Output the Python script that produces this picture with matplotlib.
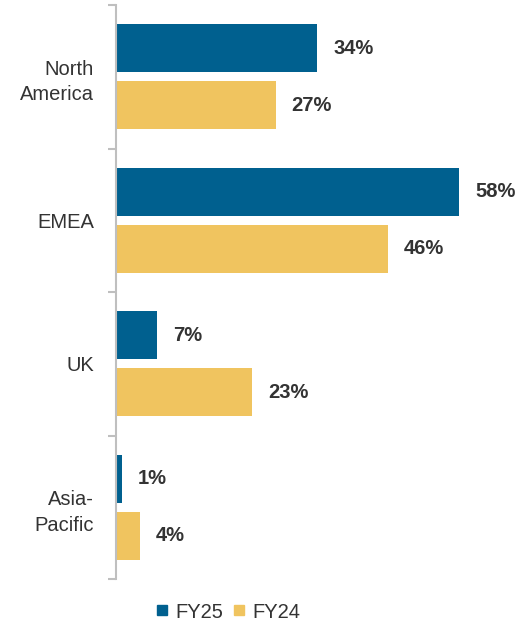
import matplotlib
matplotlib.use("Agg")
import matplotlib.pyplot as plt
import numpy as np
from matplotlib.lines import Line2D

categories = ["North\nAmerica", "EMEA", "UK", "Asia-\nPacific"]
fy25 = [34, 58, 7, 1]
fy24 = [27, 46, 23, 4]
series_names = ["FY25", "FY24"]
colors = ["#00608F", "#F0C45F"]

plt.rcParams['font.family'] = ['Liberation Sans', 'DejaVu Sans']

fig = plt.figure(figsize=(5.17, 6.24), dpi=100)
ax = fig.add_axes([116/517, 45/624, 1 - 116/517, 574/624])

y = np.arange(len(categories))
off = 0.2
h = 0.335
ax.barh(y - off, fy25, height=h, color=colors[0])
ax.barh(y + off, fy24, height=h, color=colors[1])

for yi, v in zip(y - off, fy25):
    ax.text(v + 2.7, yi, f"{v}%", va="center", ha="left", fontsize=14.5,
            fontweight="bold", color="#333333")
for yi, v in zip(y + off, fy24):
    ax.text(v + 2.7, yi, f"{v}%", va="center", ha="left", fontsize=14.5,
            fontweight="bold", color="#333333")

ax.set_ylim(len(categories) - 0.5, -0.5)
ax.set_xlim(0, 67.8)
ax.set_yticks(y)
ax.set_yticklabels(categories, fontsize=14.5, color="#333333", ha="right",
                   linespacing=1.45)
ax.tick_params(axis="y", which="major", length=0, pad=16)
ax.set_yticks(np.arange(-0.5, len(categories), 1), minor=True)
ax.tick_params(axis="y", which="minor", length=6, width=1.5, color="#BFBFBF")
ax.set_xticks([])
for s in ["top", "right", "bottom"]:
    ax.spines[s].set_visible(False)
ax.spines["left"].set_color("#BFBFBF")
ax.spines["left"].set_linewidth(1.5)

handles = [Line2D([], [], marker="s", linestyle="none", markersize=7,
                  color=c) for c in colors]
fig.legend(handles, series_names, loc="center", bbox_to_anchor=(0.44, 1 - 612/624),
           ncol=2, frameon=False, fontsize=14.5, handletextpad=0.3,
           handlelength=0.7, columnspacing=0.45, labelcolor="#333333")

fig.savefig("out.png", dpi=100)
